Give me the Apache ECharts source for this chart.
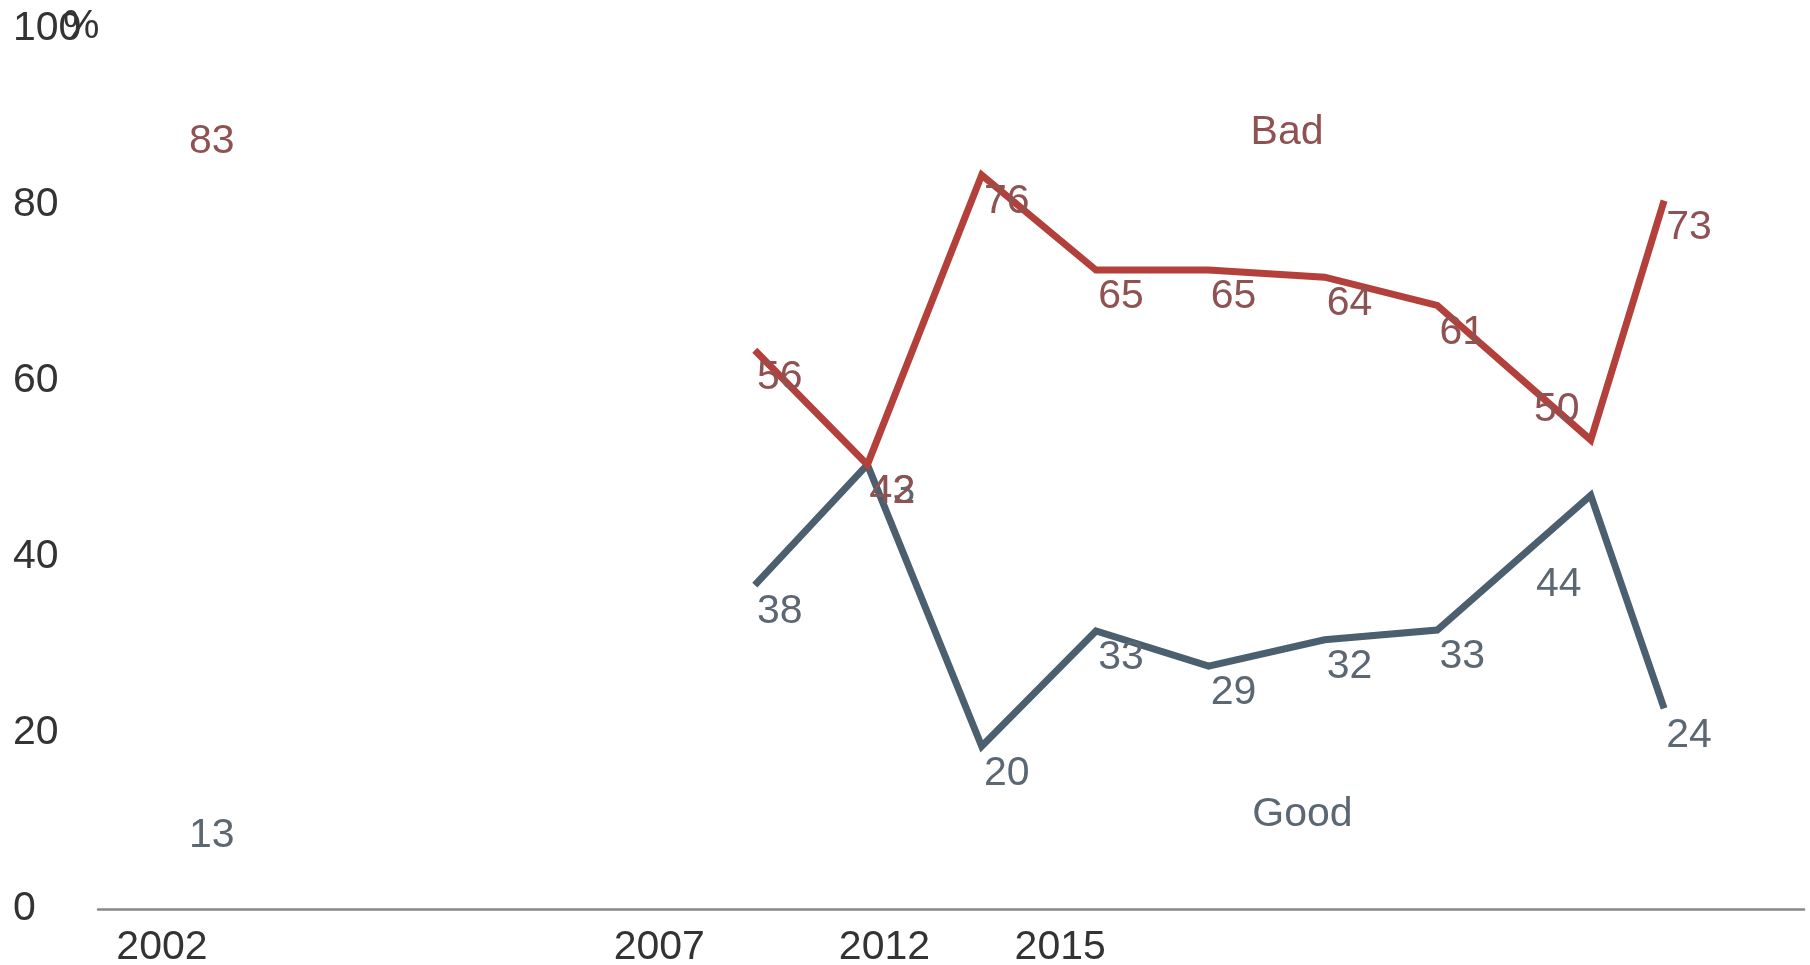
<!DOCTYPE html>
<html>
<head>
<meta charset="utf-8">
<script src="https://cdn.jsdelivr.net/npm/echarts@6/dist/echarts.min.js"></script>
<style>
html,body{margin:0;padding:0;background:#fff;}
#chart{width:1810px;height:965px;}
</style>
</head>
<body>
<div id="chart"></div>
<script>
// x positions of the surveys along the (irregular) horizontal scale
const surveyX = [5.2, 38.5, 45.1, 51.8, 58.5, 65.1, 71.9, 78.5, 87.5, 91.8];
// plotted line heights (as drawn in the picture)
const badPlot  = [90.3, 63.5, 50.5, 83.4, 72.6, 72.6, 71.8, 68.6, 53.3, 80.5];
const goodPlot = [11.4, 36.8, 50.5, 18.5, 31.6, 27.6, 30.6, 31.7, 47.0, 22.8];
// printed data labels
const badLabels  = [83, 56, 42, 76, 65, 65, 64, 61, 50, 73];
const goodLabels = [13, 38, 43, 20, 33, 29, 32, 33, 44, 24];
// x-axis tick labels and their positions
const tickLabels = ['2002', '2007', '2012', '2015'];
const tickPos    = [3.75, 32.9, 46.1, 56.4];
// series name annotations
const seriesNames = ['Bad', 'Good'];
const namePos = [[69.7, 88.2], [70.6, 10.7]];

const BAD_LINE = '#b3403a', BAD_TEXT = '#8e5252';
const GOOD_LINE = '#4b5f6e', GOOD_TEXT = '#5b6873';
const FONT = '"Liberation Sans", Arial, sans-serif';
const FS = 41;

const defOffset = [25, 27];
const badOffsets = {8: [-34, -30]};
const goodOffsets = {8: [-32, 89]};

function mkData(plot, labels, offsets, idxs) {
  return idxs.map(i => ({
    value: [surveyX[i], plot[i]],
    label: { offset: offsets[i] || defOffset, formatter: String(labels[i]) }
  }));
}
const isolated = [0];
const trend = [1,2,3,4,5,6,7,8,9];

function lineSeries(name, plot, labels, offsets, idxs, lineColor, textColor, z, markName) {
  const s = {
    name: name,
    type: 'line',
    data: mkData(plot, labels, offsets, idxs),
    symbol: 'circle',
    symbolSize: 0,
    showSymbol: true,
    z: z,
    lineStyle: { color: lineColor, width: 7, cap: 'butt', join: 'miter' },
    itemStyle: { color: lineColor },
    label: { show: true, position: 'inside', color: textColor, fontSize: FS, fontFamily: FONT },
    emphasis: { disabled: true },
    animation: false
  };
  if (markName) {
    s.markPoint = {
      symbol: 'circle', symbolSize: 0, animation: false,
      label: { show: true, position: 'inside', color: textColor, fontSize: FS, fontFamily: FONT },
      data: [{ coord: markName.pos, value: markName.text, label: { formatter: markName.text } }]
    };
  }
  return s;
}

const chart = echarts.init(document.getElementById('chart'), null, { renderer: 'canvas' });
chart.setOption({
  backgroundColor: '#ffffff',
  animation: false,
  grid: { left: 98, right: 6, top: 29, bottom: 56, containLabel: false, outerBoundsMode: 'none' },
  xAxis: {
    type: 'value', min: 0, max: 100,
    axisLine: { show: true, onZero: true, lineStyle: { color: '#888888', width: 2.5 } },
    axisTick: { show: false },
    splitLine: { show: false },
    axisLabel: {
      customValues: tickPos,
      margin: 18,
      fontSize: FS, color: '#333', fontFamily: FONT,
      formatter: v => { const k = tickPos.findIndex(p => Math.abs(p - v) < 1e-6); return k >= 0 ? tickLabels[k] : ''; }
    }
  },
  yAxis: {
    type: 'value', min: 0, max: 100, interval: 20,
    axisLine: { show: false }, axisTick: { show: false }, splitLine: { show: false },
    axisLabel: { align: 'left', margin: 85, fontSize: FS, color: '#333', fontFamily: FONT }
  },
  graphic: [{
    type: 'text', left: 63, top: 6, silent: true,
    style: { text: '%', fontSize: FS, fill: '#333', font: FS + 'px ' + FONT }
  }],
  series: [
    lineSeries('Good', goodPlot, goodLabels, goodOffsets, trend, GOOD_LINE, GOOD_TEXT, 2, { text: seriesNames[1], pos: namePos[1] }),
    lineSeries('Good2002', goodPlot, goodLabels, goodOffsets, isolated, GOOD_LINE, GOOD_TEXT, 2),
    lineSeries('Bad', badPlot, badLabels, badOffsets, trend, BAD_LINE, BAD_TEXT, 3, { text: seriesNames[0], pos: namePos[0] }),
    lineSeries('Bad2002', badPlot, badLabels, badOffsets, isolated, BAD_LINE, BAD_TEXT, 3)
  ]
});
</script>
</body>
</html>
